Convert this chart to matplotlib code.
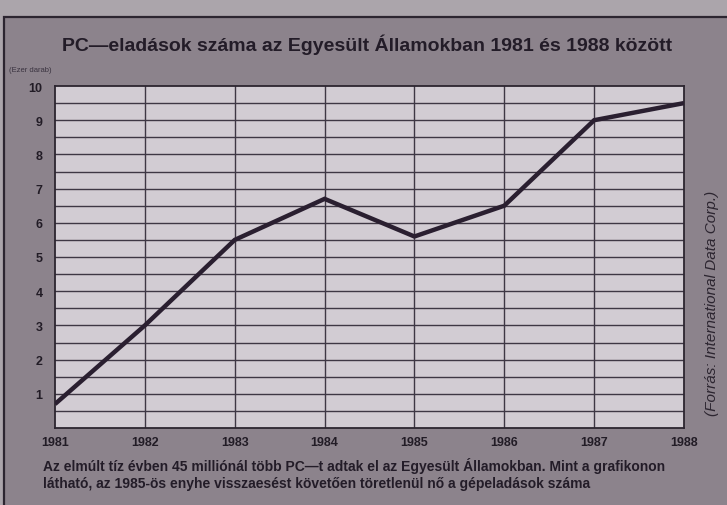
import matplotlib
matplotlib.use("Agg")
import matplotlib.pyplot as plt
from matplotlib.patches import Rectangle
import numpy as np

years = [1981, 1982, 1983, 1984, 1985, 1986, 1987, 1988]
sales = [0.7, 3.0, 5.5, 6.7, 5.6, 6.5, 9.0, 9.5]
y_ticks = [1, 2, 3, 4, 5, 6, 7, 8, 9, 10]

title = "PC\u2014eladások száma az Egyesült Államokban 1981 és 1988 között"
unit_label = "(Ezer darab)"
caption_lines = [
    "Az elmúlt tíz évben 45 milliónál több PC\u2014t adtak el az Egyesült Államokban. Mint a grafikonon",
    "látható, az 1985-ös enyhe visszaesést követően töretlenül nő a gépeladások száma",
]
source = "(Forrás: International Data Corp.)"

W, H = 727, 506
fig = plt.figure(figsize=(W / 100, H / 100), dpi=100)
fig.patch.set_facecolor("#aba5ab")

# inner darker panel with frame
panel = Rectangle((4 / W, -0.01), 1, 1.01 - 18 / H, transform=fig.transFigure,
                  facecolor="#8c838c", edgecolor="#2c2530", linewidth=1.6, zorder=-5)
fig.patches.append(panel)

ax = fig.add_axes([55 / W, 1 - 429 / H, (684 - 55) / W, (429 - 87) / H], zorder=2)
ax.set_facecolor("#d2ccd3")
ax.set_xlim(years[0], years[-1])
ax.set_ylim(0, 10)

for yv in np.arange(0.5, 10, 0.5):
    ax.axhline(yv, color="#3e3744", linewidth=1.0, zorder=1)
for xv in years[1:-1]:
    ax.axvline(xv, color="#3e3744", linewidth=1.0, zorder=1)

ax.plot(years, sales, color="#2a1f30", linewidth=3.2, solid_capstyle="butt",
        solid_joinstyle="miter", zorder=3)

for s in ax.spines.values():
    s.set_color("#2c2530")
    s.set_linewidth(1.3)

ax.set_yticks(y_ticks)
ax.set_yticklabels([str(v) for v in y_ticks], fontsize=9, fontweight="bold",
                   color="#221c26", family="Liberation Sans")
ax.set_xticks(years)
ax.set_xticklabels([str(v) for v in years], fontsize=9, fontweight="bold",
                   color="#221c26", family="Liberation Sans")
ax.tick_params(axis="both", length=0)
ax.tick_params(axis="y", pad=9)
ax.tick_params(axis="x", pad=6)

fig.text(367 / W, 1 - 45 / H, title, ha="center", va="center", fontsize=14,
         fontweight="bold", color="#231c28", family="Liberation Sans")
fig.text(9 / W, 1 - 70 / H, unit_label, ha="left", va="center", fontsize=5.5,
         color="#3a3340", family="Liberation Sans")
fig.text(43 / W, 1 - 466 / H, caption_lines[0], ha="left", va="center",
         fontsize=10, fontweight="bold", color="#231c28", family="Liberation Sans")
fig.text(43 / W, 1 - 484 / H, caption_lines[1], ha="left", va="center",
         fontsize=10, fontweight="bold", color="#231c28", family="Liberation Sans")
fig.text(712 / W, 1 - 303 / H, source, ha="center", va="center", rotation=90,
         fontsize=11, style="italic", color="#2c2530", family="Liberation Sans")

fig.savefig("out.png", dpi=100)
